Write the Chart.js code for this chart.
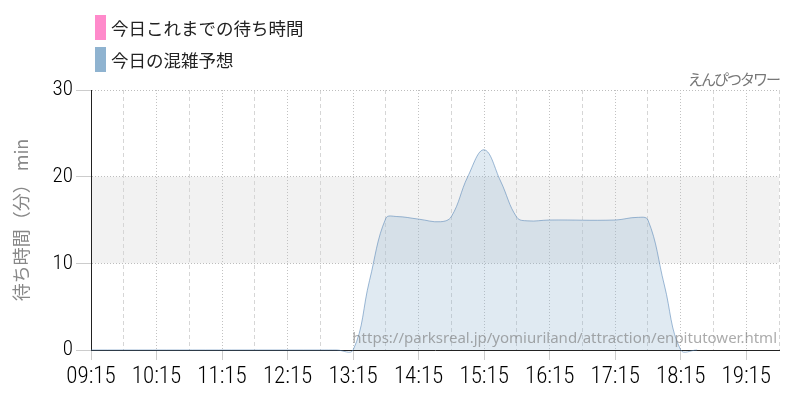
<!DOCTYPE html>
<html><head><meta charset="utf-8">
<script src="https://cdn.jsdelivr.net/npm/chart.js@4"></script>
<style>html,body{margin:0;padding:0;background:#fff;} #wrap{width:800px;height:400px;position:relative;}</style>
</head><body><div id="wrap"><canvas id="c"></canvas></div>
<script>
// ---- data ----
const seriesNames = ["今日これまでの待ち時間", "今日の混雑予想"];
const todayTimes = [];
const todayWaits = [];
const forecastTimes = ["09:15","12:45","13:00","13:15","13:30","13:45","13:55","14:15","14:35","14:45","15:00","15:15","15:30","15:45","15:55","16:15","17:15","17:35","17:45","18:00","18:15","18:30"];
const forecastWaits = [0,0,0,0,8,15.2,15.4,15.1,14.8,15.4,20.0,23.1,19.5,15.3,14.9,15.0,15.0,15.3,15.0,7.5,0,0];
const tickTimes = ["09:15","09:45","10:15","10:45","11:15","11:45","12:15","12:45","13:15","13:45","14:15","14:45","15:15","15:45","16:15","16:45","17:15","17:45","18:15","18:45","19:15","19:45"];
const tickLabels = ["09:15","","10:15","","11:15","","12:15","","13:15","","14:15","","15:15","","16:15","","17:15","","18:15","","19:15",""];
const yTicks = [0, 10, 20, 30];
const bandRange = [10, 20];
const axisTitle = "待ち時間（分） min";
const attractionName = "えんぴつタワー";
const sourceUrl = "https://parksreal.jp/yomiuriland/attraction/enpitutower.html";

// ---- helpers ----
const toMin = t => { const [h, m] = t.split(':').map(Number); return h * 60 + m; };
const pts = (ts, vs) => ts.map((t, i) => ({x: toMin(t), y: vs[i]}));
const isMajor = c => c.index !== undefined && tickLabels[c.index] !== '';
const tickFamily = "'Roboto Condensed', 'Liberation Sans Narrow', 'DejaVu Sans Condensed', sans-serif";
const jpFamily = "'Noto Sans CJK JP', sans-serif";

const decor = {
  id: 'decor',
  beforeDraw(chart) {
    const {ctx, chartArea: a, scales: {y}} = chart;
    const t = y.getPixelForValue(bandRange[1]), b = y.getPixelForValue(bandRange[0]);
    ctx.save();
    ctx.fillStyle = '#f2f2f2';
    ctx.fillRect(a.left, t, a.right - a.left, b - t);
    ctx.restore();
  },
  afterDraw(chart) {
    const {ctx, chartArea: a} = chart;
    ctx.save();
    chart.data.datasets.forEach((ds, i) => {
      ctx.fillStyle = ds.legendColor;
      ctx.fillRect(a.left + 4, 15 + i * 32, 11, 25);
      ctx.fillStyle = '#222';
      ctx.font = '17.5px ' + jpFamily;
      ctx.textAlign = 'left';
      ctx.textBaseline = 'middle';
      ctx.fillText(ds.label, a.left + 20, 28 + i * 32);
    });
    ctx.font = '15px ' + jpFamily;
    ctx.fillStyle = '#777';
    ctx.textAlign = 'right';
    ctx.textBaseline = 'alphabetic';
    try { ctx.letterSpacing = '-2px'; } catch (e) {}
    ctx.fillText(attractionName, a.right, a.top - 5);
    try { ctx.letterSpacing = '0px'; } catch (e) {}
    ctx.font = "15px 'Noto Sans', sans-serif";
    ctx.fillStyle = 'rgba(115,115,115,0.6)';
    ctx.textAlign = 'right';
    ctx.fillText(sourceUrl, a.right - 2, a.bottom - 7);
    ctx.restore();
  }
};

new Chart(document.getElementById('c'), {
  type: 'line',
  data: {
    datasets: [
      {
        label: seriesNames[0],
        data: pts(todayTimes, todayWaits),
        borderColor: '#ff8acb',
        backgroundColor: 'rgba(255,138,203,0.3)',
        legendColor: '#ff8acb',
        pointRadius: 0,
        borderWidth: 1
      },
      {
        label: seriesNames[1],
        data: pts(forecastTimes, forecastWaits),
        borderColor: 'rgba(80,130,180,0.55)',
        backgroundColor: 'rgba(143,179,208,0.28)',
        legendColor: '#8fb3d0',
        fill: 'origin',
        pointRadius: 0,
        borderWidth: 1,
        tension: 0.4,
        capBezierPoints: false,
        clip: false
      }
    ]
  },
  options: {
    responsive: true,
    maintainAspectRatio: false,
    animation: false,
    layout: {padding: {top: 90, right: 21, bottom: 0, left: 0}},
    plugins: {legend: {display: false}, title: {display: false}, tooltip: {enabled: false}},
    scales: {
      x: {
        type: 'linear',
        min: toMin(tickTimes[0]),
        max: toMin(tickTimes[tickTimes.length - 1]),
        afterBuildTicks: s => { s.ticks = tickTimes.map(t => ({value: toMin(t)})); },
        afterFit: s => { s.height = 50; },
        ticks: {
          autoSkip: false, maxRotation: 0, minRotation: 0, padding: 3,
          color: '#000', font: {family: tickFamily, size: 23, weight: 300},
          callback: (v, i) => tickLabels[i]
        },
        grid: {
          color: c => isMajor(c) ? '#c2c2c2' : '#d6d6d6',
          lineWidth: 1,
          tickLength: 10,
          tickColor: c => isMajor(c) ? '#cccccc' : 'rgba(0,0,0,0)',
          tickBorderDash: []
        },
        border: {color: '#222', width: 1, dash: c => c.tick ? (isMajor(c) ? [1, 2] : [4, 3]) : []}
      },
      y: {
        min: yTicks[0],
        max: yTicks[yTicks.length - 1],
        afterBuildTicks: s => { s.ticks = yTicks.map(v => ({value: v})); },
        afterFit: s => { s.width = 91; },
        ticks: {padding: 3, color: '#000', font: {family: tickFamily, size: 21, weight: 300}},
        title: {display: true, text: axisTitle, color: '#888', font: {family: jpFamily, size: 18}, padding: {top: 10, bottom: 0}},
        grid: {color: '#bdbdbd', lineWidth: 1, tickLength: 15, tickColor: '#cccccc', tickBorderDash: []},
        border: {color: '#222', width: 1, dash: c => c.tick ? [1, 2] : []}
      }
    }
  },
  plugins: [decor]
});
</script>
</body></html>
